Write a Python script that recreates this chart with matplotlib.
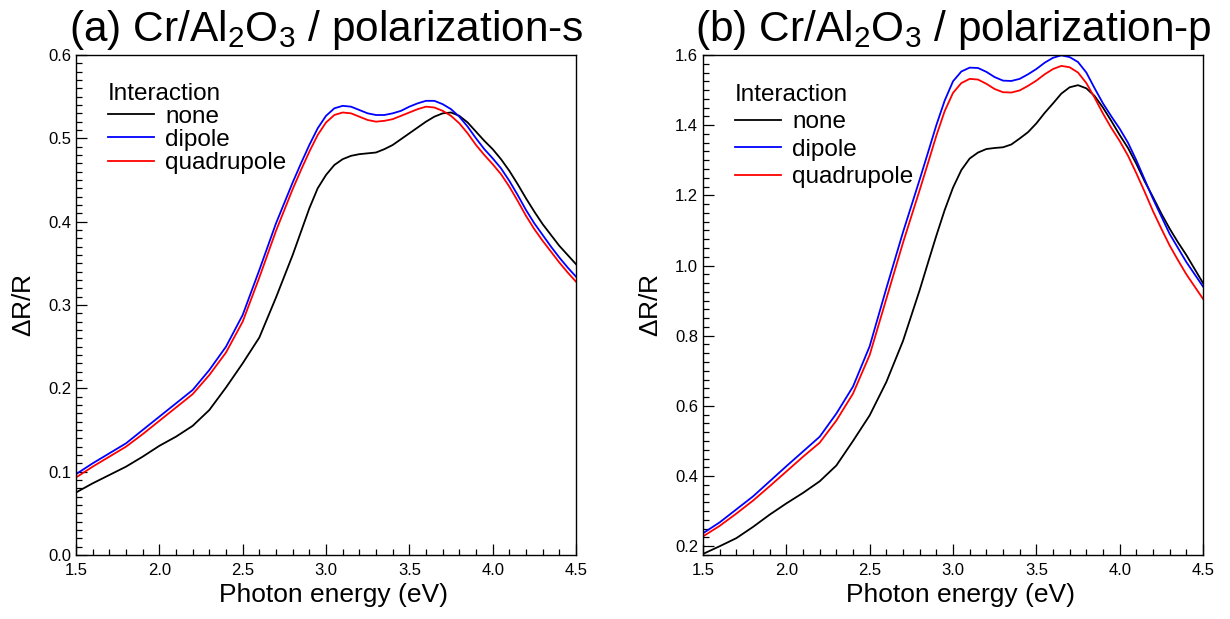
import numpy as np
import matplotlib
matplotlib.use("Agg")
from matplotlib import pyplot as plt
from matplotlib.ticker import MultipleLocator

plt.rcParams['font.family'] = ['Liberation Sans', 'DejaVu Sans']
plt.rcParams['mathtext.default'] = 'regular'

# photon energy grid (eV)
energy = [1.5, 1.6, 1.7, 1.8, 1.9, 2.0, 2.1, 2.2, 2.3, 2.4, 2.5, 2.6, 2.7, 2.8,
          2.85, 2.9, 2.95, 3.0, 3.05, 3.1, 3.15, 3.2, 3.25, 3.3, 3.35, 3.4,
          3.45, 3.5, 3.55, 3.6, 3.65, 3.7, 3.75, 3.8, 3.85, 3.9, 3.95, 4.0,
          4.05, 4.1, 4.15, 4.2, 4.25, 4.3, 4.35, 4.4, 4.45, 4.5]

# (a) polarization-s
s_none = [0.075, 0.086, 0.096, 0.106, 0.118, 0.131, 0.142, 0.155, 0.174, 0.201,
          0.230, 0.261, 0.309, 0.360, 0.388, 0.416, 0.440, 0.456, 0.468, 0.475,
          0.479, 0.481, 0.482, 0.483, 0.487, 0.492, 0.499, 0.506, 0.513, 0.520,
          0.526, 0.530, 0.531, 0.527, 0.519, 0.508, 0.497, 0.487, 0.475, 0.461,
          0.445, 0.428, 0.412, 0.397, 0.384, 0.371, 0.360, 0.349]
s_dipole = [0.097, 0.110, 0.122, 0.134, 0.150, 0.166, 0.182, 0.198, 0.222, 0.250,
            0.288, 0.342, 0.398, 0.447, 0.470, 0.492, 0.512, 0.527, 0.536, 0.539,
            0.538, 0.534, 0.530, 0.528, 0.528, 0.530, 0.533, 0.538, 0.542, 0.545,
            0.545, 0.541, 0.535, 0.526, 0.514, 0.500, 0.487, 0.476, 0.464, 0.449,
            0.432, 0.414, 0.398, 0.384, 0.370, 0.357, 0.345, 0.334]
s_quad = [0.093, 0.106, 0.118, 0.130, 0.145, 0.161, 0.177, 0.193, 0.216, 0.243,
          0.280, 0.333, 0.389, 0.439, 0.462, 0.484, 0.504, 0.519, 0.528, 0.531,
          0.530, 0.526, 0.522, 0.520, 0.521, 0.523, 0.527, 0.531, 0.535, 0.538,
          0.537, 0.533, 0.527, 0.518, 0.506, 0.492, 0.480, 0.469, 0.457, 0.442,
          0.425, 0.407, 0.391, 0.377, 0.364, 0.351, 0.339, 0.328]

# (b) polarization-p
p_none = [0.178, 0.200, 0.223, 0.255, 0.290, 0.322, 0.352, 0.385, 0.430, 0.500,
          0.573, 0.668, 0.785, 0.930, 1.008, 1.085, 1.158, 1.222, 1.272, 1.305,
          1.322, 1.332, 1.335, 1.337, 1.345, 1.362, 1.380, 1.405, 1.435, 1.462,
          1.490, 1.508, 1.514, 1.505, 1.483, 1.450, 1.412, 1.372, 1.335, 1.290,
          1.240, 1.195, 1.148, 1.105, 1.066, 1.030, 0.990, 0.950]
p_dipole = [0.237, 0.268, 0.305, 0.342, 0.385, 0.428, 0.470, 0.512, 0.578, 0.655,
            0.770, 0.935, 1.095, 1.245, 1.322, 1.400, 1.470, 1.525, 1.553, 1.564,
            1.563, 1.552, 1.537, 1.527, 1.526, 1.532, 1.545, 1.560, 1.578, 1.592,
            1.599, 1.594, 1.580, 1.550, 1.505, 1.462, 1.425, 1.390, 1.350, 1.300,
            1.245, 1.190, 1.140, 1.090, 1.050, 1.010, 0.975, 0.940]
p_quad = [0.228, 0.258, 0.293, 0.330, 0.371, 0.413, 0.455, 0.495, 0.558, 0.635,
          0.745, 0.905, 1.065, 1.215, 1.292, 1.370, 1.440, 1.492, 1.520, 1.532,
          1.530, 1.518, 1.503, 1.494, 1.493, 1.499, 1.512, 1.527, 1.545, 1.560,
          1.569, 1.565, 1.550, 1.520, 1.478, 1.433, 1.392, 1.355, 1.313, 1.263,
          1.210, 1.155, 1.105, 1.057, 1.015, 0.975, 0.940, 0.905]

labels = ['none', 'dipole', 'quadrupole']
colors = ['black', 'blue', 'red']

fig = plt.figure(figsize=(12.3, 6.19), dpi=100)
ax1 = fig.add_axes([76 / 1230, 64 / 619, 500 / 1230, 500 / 619])
ax2 = fig.add_axes([703 / 1230, 64 / 619, 500 / 1230, 500 / 619])

panels = [
    (ax1, [s_none, s_dipole, s_quad], r'(a) Cr/Al$_2$O$_3$ / polarization-s',
     (0.0, 0.6), 0.1, 0.01, (0.064, 0.945), 0.05),
    (ax2, [p_none, p_dipole, p_quad], r'(b) Cr/Al$_2$O$_3$ / polarization-p',
     (0.175, 1.6), 0.2, 0.025, (0.064, 0.942), 0.22),
]

for ax, series, title, ylim, ymaj, ymin, anchor, lspace in panels:
    for y, lab, c in zip(series, labels, colors):
        ax.plot(energy, y, color=c, lw=1.3, label=lab)
    ax.set_xlim(1.5, 4.5)
    ax.set_ylim(*ylim)
    ax.xaxis.set_major_locator(MultipleLocator(0.5))
    ax.xaxis.set_minor_locator(MultipleLocator(0.1))
    ax.yaxis.set_major_locator(MultipleLocator(ymaj))
    ax.yaxis.set_minor_locator(MultipleLocator(ymin))
    ax.xaxis.set_major_formatter(matplotlib.ticker.FormatStrFormatter('%.1f'))
    ax.yaxis.set_major_formatter(matplotlib.ticker.FormatStrFormatter('%.1f'))
    ax.tick_params(which='both', direction='in', top=False, right=False,
                   labelsize=12, width=0.9)
    ax.tick_params(which='major', length=8)
    ax.tick_params(which='minor', length=4.5)
    ax.tick_params(axis='x', pad=6)
    for sp in ax.spines.values():
        sp.set_linewidth(1.0)
    ax.set_title(title, fontsize=30.5, pad=10)
    ax.set_xlabel('Photon energy (eV)', fontsize=19)
    ax.set_ylabel(r'$\Delta$R/R', fontsize=19)
    ax.xaxis.set_label_coords(0.515, -0.056)
    ax.yaxis.set_label_coords(-0.08, 0.5)
    leg = ax.legend(title='Interaction', loc='upper left',
                    bbox_to_anchor=anchor, frameon=False, fontsize=17.5,
                    title_fontsize=17.5, handlelength=1.9, handletextpad=0.45,
                    labelspacing=lspace, borderaxespad=0, borderpad=0)
    leg._legend_box.align = 'left'

fig.savefig('out.png', dpi=100)
